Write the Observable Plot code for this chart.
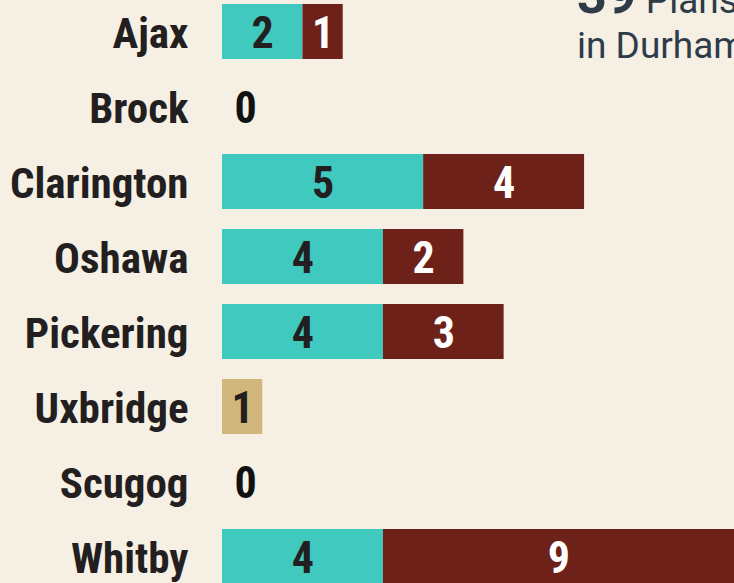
<!DOCTYPE html>
<html><head><meta charset="utf-8">
<script src="https://cdn.jsdelivr.net/npm/d3@7"></script>
<script src="https://cdn.jsdelivr.net/npm/@observablehq/plot@0.6"></script>
<style>
html,body{margin:0;padding:0;background:#F5EFE4;overflow:hidden;width:734px;height:583px}
#wrap{position:relative;width:734px;height:583px;overflow:hidden}
#title{position:absolute;left:0;top:0;width:734px;height:80px;pointer-events:none}
#title text{font-family:Roboto,sans-serif;fill:#2E3B48}
</style></head>
<body><div id="wrap"><svg id="title" width="734" height="80"><text x="577" y="13" font-size="37"><tspan font-size="52" font-weight="700">39</tspan> Plans</text><text x="577" y="58" font-size="37">in Durham</text></svg></div>
<script>
const towns = ["Ajax","Brock","Clarington","Oshawa","Pickering","Uxbridge","Scugog","Whitby"];
const seriesNames = ["Type A","Type B","Type C"];
const seriesA = [2,0,5,4,4,0,0,4];
const seriesB = [1,0,4,2,3,0,0,9];
const seriesC = [0,0,0,0,0,1,0,0];
const colors = ["#40C9BF","#6E2119","#D1B77B"];
const labelColors = ["#231F20","#FFFFFF","#231F20"];

const W = 734, H = 583;
const xOpts = {domain: [0, 13], range: [222, 745]};
const xVisibleMax = Plot.scale({x: xOpts}).invert(W);

const allSeries = [seriesA, seriesB, seriesC];
const rows = [];
towns.forEach((t, i) => {
  let acc = 0;
  allSeries.forEach((s, k) => {
    if (s[i] > 0) {
      const x1 = acc, x2 = acc + s[i];
      rows.push({town: t, series: seriesNames[k], value: s[i], x1, x2, xm: (x1 + Math.min(x2, xVisibleMax)) / 2});
      acc = x2;
    }
  });
});
const zeros = towns.filter((t, i) => allSeries.every(s => s[i] === 0));

const font = "'Roboto Condensed','Liberation Sans Narrow','DejaVu Sans Condensed',sans-serif";
const chart = Plot.plot({
  width: W, height: H,
  marginLeft: 222, marginRight: 0, marginTop: 0, marginBottom: 0,
  style: {background: "transparent", fontFamily: font, overflow: "hidden"},
  x: {...xOpts, axis: null},
  y: {domain: towns, range: [-7, 594], paddingInner: 0.267, paddingOuter: 0.1335, align: 0.5, axis: null},
  color: {domain: seriesNames, range: colors},
  marks: [
    Plot.barX(rows, {x1: "x1", x2: "x2", y: "town", fill: "series"}),
    Plot.text(rows, {
      x: "xm", y: "town", text: "value",
      fill: {value: d => labelColors[seriesNames.indexOf(d.series)], scale: null},
      fontSize: 44, fontWeight: "bold", fontFamily: font, dy: 2
    }),
    Plot.text(zeros, {x: () => 0, y: d => d, text: () => "0", textAnchor: "start", dx: 12,
      fill: "#111", fontSize: 44, fontWeight: "bold", fontFamily: font, dy: 2}),
    Plot.axisY({tickSize: 0, tickPadding: 34, label: null, fontSize: 43, fontWeight: "bold", fontFamily: font, color: "#231F20", dy: 2})
  ]
});
document.getElementById("wrap").prepend(chart);
</script>
</body></html>
